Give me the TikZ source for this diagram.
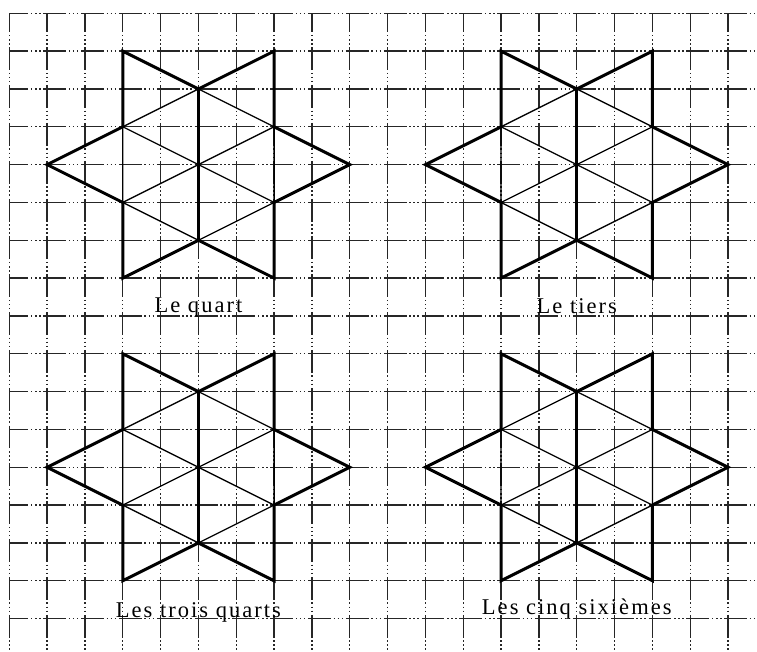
\documentclass[tikz,border=0pt]{standalone}
\usepackage{fontspec}
\setmainfont{Liberation Serif}
\newfontfamily\lblfont[LetterSpace=9]{Liberation Serif}
\begin{document}
\begin{tikzpicture}[x=37.83pt,y=-37.83pt,
  gridline/.style={line width=1.4pt, black!85,
    dash pattern=on 22.86pt off 2.6pt on 1.5pt off 2.6pt on 1.5pt off 2.6pt on 1.5pt off 2.67pt,
    dash phase=3.8pt},
  outline/.style={line width=3pt, black, line join=miter},
  innerline/.style={line width=1.3pt, black},
  centerline/.style={line width=2.6pt, black},
  lbl/.style={anchor=base, inner sep=0pt, font=\lblfont\fontsize{22.5}{26}\selectfont}]
\useasboundingbox (-0.2458,-0.3516) rectangle (19.765,16.883);
% grid
\foreach \r in {0,...,16} \draw[gridline] (0,\r) -- (19.765,\r);
\foreach \c in {0,...,19} \draw[gridline] (\c,0) -- (\c,16.883);
% stars
\foreach \ox/\oy in {0/0,10/0,0/8,10/8} {
  \begin{scope}[shift={(\ox,\oy)}]
    \draw[innerline] (5,2) -- (7,3) -- (7,5) -- (5,6) -- (3,5) -- (3,3) -- cycle;
    \draw[innerline] (3,3) -- (7,5);
    \draw[innerline] (3,5) -- (7,3);
    \draw[centerline] (5,2) -- (5,6);
    \draw[outline] (3,1) -- (5,2) -- (7,1) -- (7,3) -- (9,4) -- (7,5) -- (7,7)
      -- (5,6) -- (3,7) -- (3,5) -- (1,4) -- (3,3) -- cycle;
  \end{scope}
}
% labels
\node[lbl] (quart) at (5,7.92) {Le quart};
\node[lbl] (tiers) at (15,7.93) {Le tiers};
\node[lbl] (troisquarts) at (5,15.96) {Les trois quarts};
\node[lbl] (cinqsix) at (15,15.9) {Les cinq sixièmes};
\end{tikzpicture}
\end{document}
